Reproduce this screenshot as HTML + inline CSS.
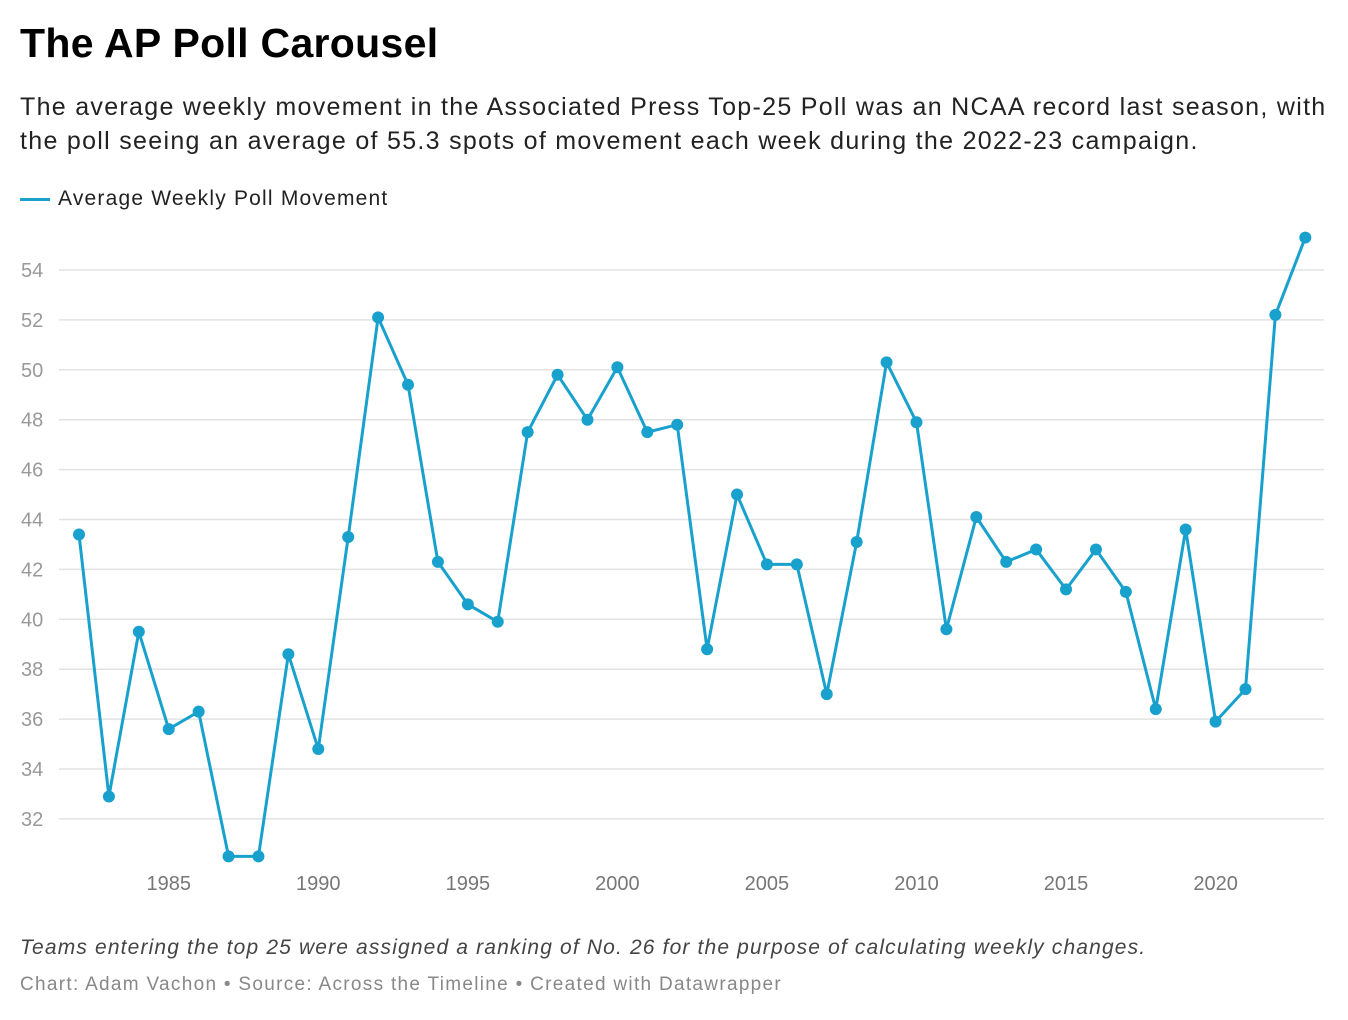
<!DOCTYPE html>
<html><head><meta charset="utf-8"><style>
body{margin:0;background:#fff;font-family:"Liberation Sans",sans-serif;}
#wrap{position:relative;width:1348px;height:1020px;overflow:hidden}
h1{position:absolute;left:20px;top:20px;margin:0;font-size:41px;font-weight:bold;color:#000;letter-spacing:0.3px}
.sub{position:absolute;left:20px;top:90px;width:1340px;font-size:25px;line-height:34px;color:#222;letter-spacing:1.3px;white-space:nowrap}
.leg{position:absolute;left:20px;top:187px;font-size:21px;color:#222;letter-spacing:1.2px}
.leg span{display:inline-block;width:30px;height:3px;background:#18a1cd;vertical-align:middle;margin-right:8px}
.note{position:absolute;left:20px;top:936px;font-size:21px;font-style:italic;color:#444;letter-spacing:1.15px}
.foot{position:absolute;left:20px;top:974px;font-size:19px;color:#888;letter-spacing:1.3px}
svg{position:absolute;left:0;top:0}
</style></head><body><div id="wrap">
<h1>The AP Poll Carousel</h1>
<div class="sub">The average weekly movement in the Associated Press Top-25 Poll was an NCAA record last season, with<br>the poll seeing an average of 55.3 spots of movement each week during the 2022-23 campaign.</div>
<div class="leg"><span></span>Average Weekly Poll Movement</div>
<svg id="chart" width="1348" height="1020"></svg>
<div class="note">Teams entering the top 25 were assigned a ranking of No. 26 for the purpose of calculating weekly changes.</div>
<div class="foot">Chart: Adam Vachon • Source: Across the Timeline • Created with Datawrapper</div>
</div>
<script>
const years=[1982,1983,1984,1985,1986,1987,1988,1989,1990,1991,1992,1993,1994,1995,1996,1997,1998,1999,2000,2001,2002,2003,2004,2005,2006,2007,2008,2009,2010,2011,2012,2013,2014,2015,2016,2017,2018,2019,2020,2021,2022,2023];
const movement=[43.4,32.9,39.5,35.6,36.3,30.5,30.5,38.6,34.8,43.3,52.1,49.4,42.3,40.6,39.9,47.5,49.8,48.0,50.1,47.5,47.8,38.8,45.0,42.2,42.2,37.0,43.1,50.3,47.9,39.6,44.1,42.3,42.8,41.2,42.8,41.1,36.4,43.6,35.9,37.2,52.2,55.3];
const yTicks=[32,34,36,38,40,42,44,46,48,50,52,54];
const xTicks=[1985,1990,1995,2000,2005,2010,2015,2020];
const NS="http://www.w3.org/2000/svg";
const svg=document.getElementById('chart');
const x=v=>79+(v-1982)*29.91;
const y=v=>270+(54-v)*24.95;
function mk(t,a){const e=document.createElementNS(NS,t);for(const k in a)e.setAttribute(k,a[k]);svg.appendChild(e);return e;}
yTicks.forEach(t=>{
  const l=mk('line',{x1:59,x2:1324,y1:y(t),y2:y(t),stroke:'#e2e2e2','stroke-width':1.5});
  
  
  const tx=mk('text',{x:21,y:y(t)+7,'font-size':20,fill:'#999','font-family':'Liberation Sans, sans-serif'});
  tx.textContent=t;
  
  
});
xTicks.forEach(t=>{
  const tx=mk('text',{x:x(t),y:890,'font-size':20,fill:'#777','text-anchor':'middle','font-family':'Liberation Sans, sans-serif'});
  tx.textContent=t;
  
  
});
const p=mk('polyline',{points:years.map((yr,i)=>x(yr)+','+y(movement[i])).join(' '),fill:'none',stroke:'#18a1cd','stroke-width':3,'stroke-linejoin':'round'});


years.forEach((yr,i)=>{
  const c=mk('circle',{cx:x(yr),cy:y(movement[i]),r:6,fill:'#18a1cd'});
  
  
});
</script></body></html>
